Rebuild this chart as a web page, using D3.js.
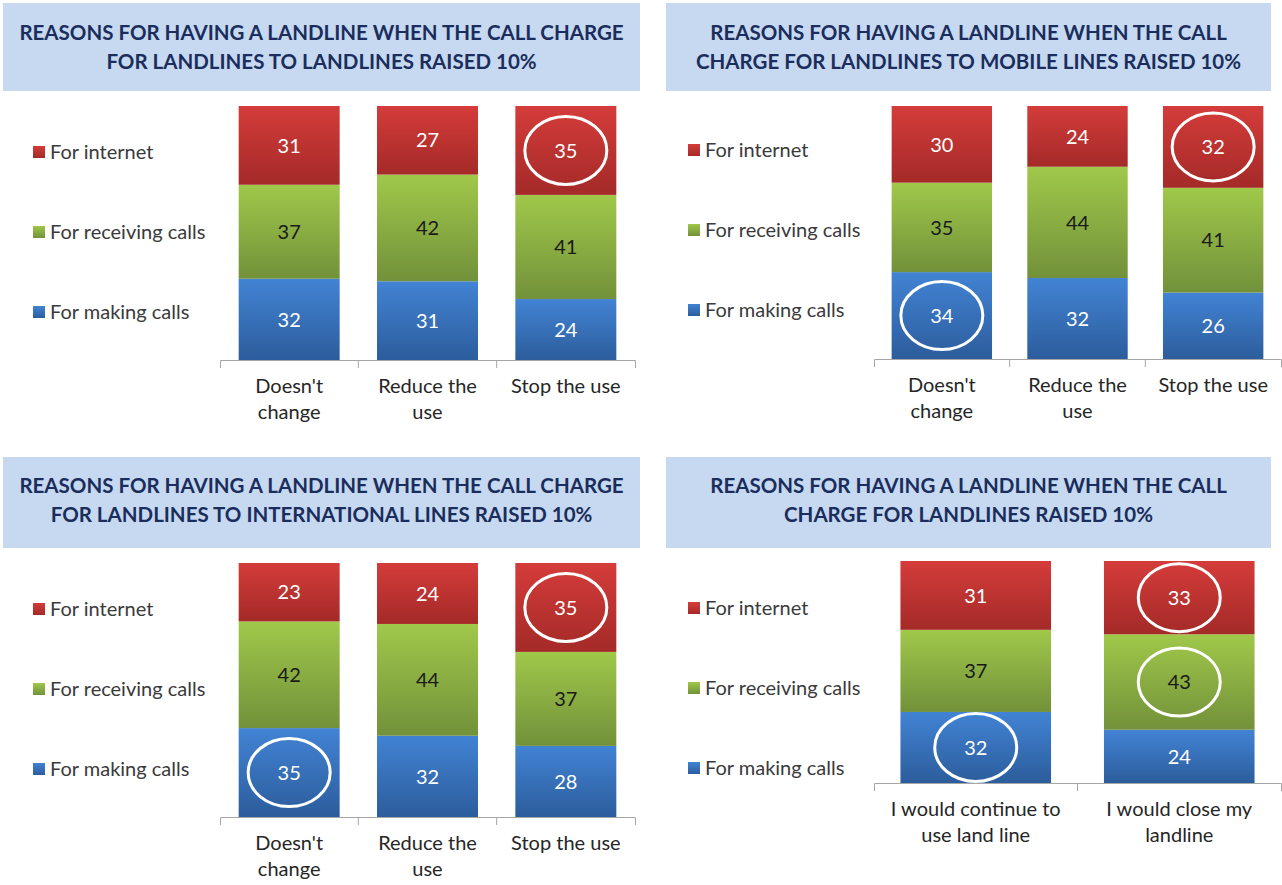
<!DOCTYPE html>
<html>
<head>
<meta charset="utf-8">
<script src="https://cdn.jsdelivr.net/npm/d3@7"></script>
<style>
  body { margin: 0; background: #fff; }
  svg { display: block; font-family: Lato, "Open Sans", sans-serif; }
</style>
</head>
<body>
<svg id="viz" width="1282" height="885"></svg>
<script>
// series names, bottom to top
const seriesNames = ['For making calls', 'For receiving calls', 'For internet'];

const titleLandline = ['REASONS FOR HAVING A LANDLINE WHEN THE CALL CHARGE', 'FOR LANDLINES TO LANDLINES RAISED 10%'];
const titleMobile = ['REASONS FOR HAVING A LANDLINE WHEN THE CALL', 'CHARGE FOR LANDLINES TO MOBILE LINES RAISED 10%'];
const titleIntl = ['REASONS FOR HAVING A LANDLINE WHEN THE CALL CHARGE', 'FOR LANDLINES TO INTERNATIONAL LINES RAISED 10%'];
const titleGeneral = ['REASONS FOR HAVING A LANDLINE WHEN THE CALL', 'CHARGE FOR LANDLINES RAISED 10%'];

const usageCategories = ["Doesn't\nchange", 'Reduce the\nuse', 'Stop the use'];
const closeCategories = ['I would continue to\nuse land line', 'I would close my\nlandline'];

const landlineMaking = [32, 31, 24];
const landlineReceiving = [37, 42, 41];
const landlineInternet = [31, 27, 35];

const mobileMaking = [34, 32, 26];
const mobileReceiving = [35, 44, 41];
const mobileInternet = [30, 24, 32];

const intlMaking = [35, 32, 28];
const intlReceiving = [42, 44, 37];
const intlInternet = [23, 24, 35];

const generalMaking = [32, 24];
const generalReceiving = [37, 43];
const generalInternet = [31, 33];

// circled values: [series index, category index]
const landlineCircled = [[2, 2]];
const mobileCircled = [[2, 2], [0, 0]];
const intlCircled = [[2, 2], [0, 0]];
const generalCircled = [[0, 0], [2, 1], [1, 1]];

const svg = d3.select('#viz');

// gradients for the bars
const gradColors = [['#4283d4', '#2c5d9c'], ['#a0c84a', '#72913a'], ['#d43c3a', '#a42a28']];
const defs = svg.append('defs');
gradColors.forEach(function (c, i) {
  const g = defs.append('linearGradient').attr('id', 'grad' + i)
    .attr('x1', 0).attr('y1', 0).attr('x2', 0).attr('y2', 1);
  g.append('stop').attr('offset', '0%').attr('stop-color', c[0]);
  g.append('stop').attr('offset', '100%').attr('stop-color', c[1]);
});
const labelColors = ['#ffffff', '#1a1a1a', '#ffffff'];

function drawPanel(opt) {
  const g = svg.append('g');

  // title box
  g.append('rect')
    .attr('x', opt.boxX).attr('y', opt.boxY)
    .attr('width', opt.boxW).attr('height', opt.boxH)
    .attr('fill', '#c6d9f0');
  g.selectAll('.title').data(opt.title).enter().append('text')
    .attr('x', opt.boxX + opt.boxW / 2)
    .attr('y', function (d, i) { return opt.titleY + i * 29; })
    .attr('text-anchor', 'middle')
    .attr('font-size', 20.5)
    .attr('font-weight', 'bold')
    .attr('fill', '#1a2d5c')
    .text(function (d) { return d; });

  const x = d3.scaleBand()
    .domain(opt.categories)
    .range([opt.axisX0, opt.axisX1])
    .paddingInner(opt.pad)
    .paddingOuter(opt.pad / 2);
  const y = d3.scaleLinear().domain([0, 1]).range([opt.barBottom, opt.barTop]);

  const rows = opt.categories.map(function (c, i) {
    return { cat: c, s0: opt.series[0][i], s1: opt.series[1][i], s2: opt.series[2][i] };
  });
  // 100% stacked, like the original
  const stacked = d3.stack().keys(['s0', 's1', 's2']).offset(d3.stackOffsetExpand)(rows);

  const layer = g.selectAll('.layer').data(stacked).enter().append('g')
    .attr('fill', function (d, i) { return 'url(#grad' + i + ')'; });

  layer.selectAll('rect').data(function (d) { return d; }).enter().append('rect')
    .attr('x', function (d) { return x(d.data.cat); })
    .attr('width', x.bandwidth())
    .attr('y', function (d) { return y(d[1]); })
    .attr('height', function (d) { return y(d[0]) - y(d[1]); });

  stacked.forEach(function (s, si) {
    g.selectAll('.lbl' + si).data(s).enter().append('text')
      .attr('x', function (d) { return x(d.data.cat) + x.bandwidth() / 2; })
      .attr('y', function (d) { return (y(d[0]) + y(d[1])) / 2; })
      .attr('dy', '0.36em')
      .attr('text-anchor', 'middle')
      .attr('font-size', 20)
      .attr('fill', labelColors[si])
      .text(function (d) { return d.data['s' + si]; });
  });

  // white rings
  g.selectAll('.ring').data(opt.circled).enter().append('ellipse')
    .attr('cx', function (d) { return x(opt.categories[d[1]]) + x.bandwidth() / 2; })
    .attr('cy', function (d) {
      const seg = stacked[d[0]][d[1]];
      return (y(seg[0]) + y(seg[1])) / 2;
    })
    .attr('rx', 41).attr('ry', 34)
    .attr('fill', 'none')
    .attr('stroke', '#fff')
    .attr('stroke-width', 3);

  // axis
  const axis = g.append('g')
    .attr('transform', 'translate(0,' + opt.barBottom + ')')
    .call(d3.axisBottom(x).tickSizeInner(0).tickSizeOuter(8).tickPadding(19));
  axis.select('.domain').attr('stroke', '#a6a6a6');
  axis.selectAll('.tick text')
    .attr('font-size', 20)
    .attr('font-family', 'Lato, sans-serif')
    .attr('fill', '#262626')
    .each(function (d) {
      const t = d3.select(this);
      const lines = d.split('\n');
      t.text(null);
      lines.forEach(function (l, i) {
        t.append('tspan').attr('x', 0).attr('dy', i === 0 ? '0.71em' : '1.3em').text(l);
      });
    });
  // separators between categories
  g.selectAll('.sep').data(d3.range(1, opt.categories.length)).enter().append('line')
    .attr('x1', function (i) { return opt.axisX0 + x.step() * i; })
    .attr('x2', function (i) { return opt.axisX0 + x.step() * i; })
    .attr('y1', opt.barBottom).attr('y2', opt.barBottom + 8)
    .attr('stroke', '#a6a6a6');

  // legend, top to bottom
  const legend = g.selectAll('.legend').data([2, 1, 0]).enter().append('g')
    .attr('transform', function (d, i) {
      return 'translate(' + opt.legendX + ',' + (opt.legendY + i * 80) + ')';
    });
  legend.append('rect')
    .attr('x', 0).attr('y', -6).attr('width', 12).attr('height', 12)
    .attr('fill', function (d) { return 'url(#grad' + d + ')'; });
  legend.append('text')
    .attr('x', 17).attr('dy', '0.35em')
    .attr('font-size', 20)
    .attr('fill', '#3a3a3a')
    .text(function (d) { return seriesNames[d]; });
}

drawPanel({
  title: titleLandline, categories: usageCategories,
  series: [landlineMaking, landlineReceiving, landlineInternet], circled: landlineCircled,
  boxX: 3, boxY: 3, boxW: 637, boxH: 88, titleY: 40,
  axisX0: 220, axisX1: 635, pad: 0.27, barTop: 106, barBottom: 360,
  legendX: 33, legendY: 152
});
drawPanel({
  title: titleMobile, categories: usageCategories,
  series: [mobileMaking, mobileReceiving, mobileInternet], circled: mobileCircled,
  boxX: 666, boxY: 3, boxW: 605, boxH: 88, titleY: 40,
  axisX0: 874, axisX1: 1281, pad: 0.26, barTop: 106, barBottom: 359,
  legendX: 688, legendY: 150
});
drawPanel({
  title: titleIntl, categories: usageCategories,
  series: [intlMaking, intlReceiving, intlInternet], circled: intlCircled,
  boxX: 3, boxY: 457, boxW: 637, boxH: 91, titleY: 493,
  axisX0: 220, axisX1: 635, pad: 0.27, barTop: 563, barBottom: 817,
  legendX: 33, legendY: 609
});
drawPanel({
  title: titleGeneral, categories: closeCategories,
  series: [generalMaking, generalReceiving, generalInternet], circled: generalCircled,
  boxX: 666, boxY: 457, boxW: 605, boxH: 91, titleY: 493,
  axisX0: 874, axisX1: 1281, pad: 0.26, barTop: 561, barBottom: 783,
  legendX: 688, legendY: 608
});
</script>
</body>
</html>
